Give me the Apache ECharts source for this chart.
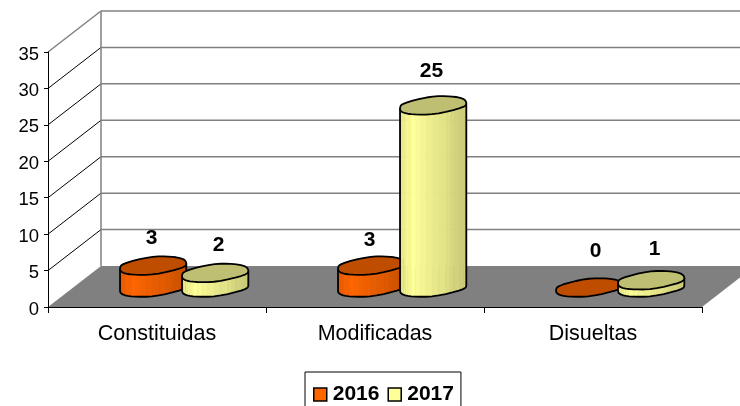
<!DOCTYPE html>
<html>
<head>
<meta charset="utf-8">
<style>
  html, body { margin: 0; padding: 0; background: #fff; overflow: hidden; }
  #chart { width: 740px; height: 406px; }
</style>
<script src="https://cdn.jsdelivr.net/npm/echarts@6/dist/echarts.min.js"></script>
</head>
<body>
<div id="chart"></div>
<script>
var categories = ['Constituidas', 'Modificadas', 'Disueltas'];
var values2016 = [3, 3, 0];
var values2017 = [2, 25, 1];
var yTicks = [0, 5, 10, 15, 20, 25, 30, 35];

// fake 3d: how far the back wall sits from the front plane
var depthX = 53;
var depthY = 41;
// cylinders stand half way into the floor, and either side of the band centre
var shiftX = 26.5;
var shiftY = 19.5;
var sideOffset = 31;
// excel's cylinder cap is a coarse lumpy shape, not a real ellipse
var capRough = [[-33, 3], [-30.5, -2], [-2, -9.2], [19, -9.2], [31, -7], [34.5, -2.5],
    [32, 2], [2, 9.3], [-21, 9.2], [-31, 7]];
// excel puts the value labels a bit unevenly, [dx, dy] per series and category
var labelNudge2016 = [[-1, 2], [-1, 4], [7, -7]];
var labelNudge2017 = [[4, 1], [-1, -5], [4, -2]];

var font = '"Liberation Sans", Arial, sans-serif';

function shade(rgb, f) {
    return 'rgb(' + rgb.map(function (c) { return Math.round(c * f); }).join(',') + ')';
}

// lateral brightness across the visible side of the cylinder, in visible bands
function sideFactor(p) {
    p = Math.floor(p * 12) / 12;
    if (p < 0.17) return 0.92 + p * 0.48;
    return 1 - (p - 0.17) * 0.27;
}

// corner cutting, rounds the cap without losing its lumps
function roundOff(pts) {
    var out = [];
    pts.forEach(function (a, i) {
        var b = pts[(i + 1) % pts.length];
        out.push([a[0] * 0.75 + b[0] * 0.25, a[1] * 0.75 + b[1] * 0.25]);
        out.push([a[0] * 0.25 + b[0] * 0.75, a[1] * 0.25 + b[1] * 0.75]);
    });
    return out;
}

var capShape = roundOff(roundOff(capRough));

function cutEdge(a, b) {
    var n = Math.max(1, Math.round(Math.abs(b[0] - a[0]) / 5));
    var pts = [];
    for (var i = 0; i < n; i++) {
        pts.push([a[0] + (b[0] - a[0]) * i / n, a[1] + (b[1] - a[1]) * i / n]);
    }
    return pts;
}

function frontEdge(cx, cy) {
    var iMin = 0, iMax = 0;
    capShape.forEach(function (p, i) {
        if (p[0] < capShape[iMin][0]) iMin = i;
        if (p[0] > capShape[iMax][0]) iMax = i;
    });
    var pts = [];
    for (var i = iMax; i !== iMin; i = (i + 1) % capShape.length) {
        pts = pts.concat(cutEdge(capShape[i], capShape[(i + 1) % capShape.length]));
    }
    pts.push(capShape[iMin]);
    return pts.map(function (p) { return [cx + p[0], cy + p[1]]; });
}

function cylinderRenderer(rgb, offset, nudges) {
    return function (params, api) {
        var cat = api.value(0);
        var val = api.value(1);
        var top = api.coord([cat, val]);
        var base = api.coord([cat, 0]);
        var cx = top[0] + shiftX + offset;
        var topY = top[1] - shiftY;
        var h = base[1] - top[1];
        var children = [];

        if (h > 0) {
            var front = frontEdge(cx, topY);
            var xMax = front[0][0], xMin = front[front.length - 1][0];
            for (var k = 0; k < front.length - 1; k++) {
                var a = front[k], b = front[k + 1];
                var col = shade(rgb, sideFactor(((a[0] + b[0]) / 2 - xMin) / (xMax - xMin)));
                children.push({
                    type: 'polygon',
                    shape: { points: [a, b, [b[0], b[1] + h], [a[0], a[1] + h]] },
                    style: { fill: col, stroke: col, lineWidth: 0.5 }
                });
            }
            var edge = [front[0]];
            front.forEach(function (p) { edge.push([p[0], p[1] + h]); });
            edge.push(front[front.length - 1]);
            children.push({
                type: 'polyline',
                shape: { points: edge },
                style: { fill: null, stroke: '#000', lineWidth: 1.8, lineJoin: 'round' }
            });
        }
        children.push({
            type: 'polygon',
            shape: { points: capShape.map(function (p) { return [cx + p[0], topY + p[1]]; }) },
            style: { fill: shade(rgb, 0.75), stroke: '#000', lineWidth: 1.8, lineJoin: 'round' }
        });
        var n = nudges[cat];
        children.push({
            type: 'text',
            style: {
                text: String(val),
                x: cx + n[0],
                y: topY - 29 + n[1],
                align: 'center',
                verticalAlign: 'middle',
                font: 'bold 21px ' + font,
                fill: '#000'
            }
        });
        return { type: 'group', children: children };
    };
}

function renderWalls(params, api) {
    var sys = params.coordSys;
    var val = api.value(1);
    var y = api.coord([0, val])[1];
    var x0 = sys.x;
    var x1 = sys.x + sys.width;
    var children = [];
    if (val === 0) {
        children.push({
            type: 'polygon',
            shape: { points: [[x0, y], [x1, y], [x1 + depthX, y - depthY], [x0 + depthX, y - depthY]] },
            style: { fill: '#808080' }
        });
    } else {
        var isTop = val === yTicks[yTicks.length - 1];
        children.push({
            type: 'line',
            shape: { x1: x0, y1: y, x2: x0 + depthX, y2: y - depthY },
            style: { stroke: isTop ? '#808080' : '#000', lineWidth: isTop ? 1.5 : 1 }
        });
        children.push({
            type: 'line',
            shape: { x1: x0 + depthX, y1: y - depthY, x2: x1 + depthX, y2: y - depthY },
            style: { stroke: '#808080', lineWidth: 1.5 }
        });
        if (isTop) {
            var yBase = api.coord([0, 0])[1];
            children.push({
                type: 'line',
                shape: { x1: x0 + depthX, y1: y - depthY, x2: x0 + depthX, y2: yBase - depthY },
                style: { stroke: '#808080', lineWidth: 1.5 }
            });
        }
    }
    return { type: 'group', children: children };
}

function toPoints(list) {
    return list.map(function (v, i) { return [i, v]; });
}

var chart = echarts.init(document.getElementById('chart'), null, { renderer: 'canvas' });
chart.setOption({
    animation: false,
    backgroundColor: '#fff',
    grid: { left: 48, right: 38, top: 52, bottom: 99 },
    legend: {
        left: 305,
        top: 372,
        data: ['2016', '2017'],
        backgroundColor: '#fff',
        borderColor: '#000',
        borderWidth: 1,
        borderRadius: 0,
        padding: [12, 7, 12, 8],
        itemGap: 8,
        itemWidth: 13,
        itemHeight: 13,
        icon: 'rect',
        selectedMode: false,
        itemStyle: { borderColor: '#000', borderWidth: 1.5 },
        textStyle: { fontFamily: font, fontWeight: 'bold', fontSize: 21, color: '#000', padding: [0, 0, 0, 1] }
    },
    xAxis: {
        type: 'category',
        data: categories,
        z: 5,
        axisLine: { show: true, lineStyle: { color: '#000', width: 1 } },
        axisTick: { show: true, length: 6, lineStyle: { color: '#000', width: 1 } },
        axisLabel: { margin: 16, fontFamily: font, fontSize: 21.5, color: '#000' },
        splitLine: { show: false }
    },
    yAxis: {
        type: 'value',
        min: 0,
        max: 35,
        interval: 5,
        z: 5,
        axisLine: { show: true, lineStyle: { color: '#000', width: 1 } },
        axisTick: { show: true, length: 4, lineStyle: { color: '#000', width: 1 } },
        axisLabel: { margin: 9, fontFamily: font, fontSize: 18.5, color: '#000', verticalAlign: 'top', padding: [-7, 0, 0, 0] },
        splitLine: { show: false }
    },
    series: [
        {
            type: 'custom',
            name: 'walls',
            silent: true,
            z: 1,
            renderItem: renderWalls,
            data: yTicks.map(function (v) { return [0, v]; })
        },
        {
            type: 'custom',
            name: '2016',
            silent: true,
            z: 6,
            itemStyle: { color: '#FF6600' },
            renderItem: cylinderRenderer([255, 102, 0], -sideOffset, labelNudge2016),
            data: toPoints(values2016)
        },
        {
            type: 'custom',
            name: '2017',
            silent: true,
            z: 7,
            itemStyle: { color: '#FFFF99' },
            renderItem: cylinderRenderer([255, 255, 153], sideOffset, labelNudge2017),
            data: toPoints(values2017)
        }
    ]
});
</script>
</body>
</html>
